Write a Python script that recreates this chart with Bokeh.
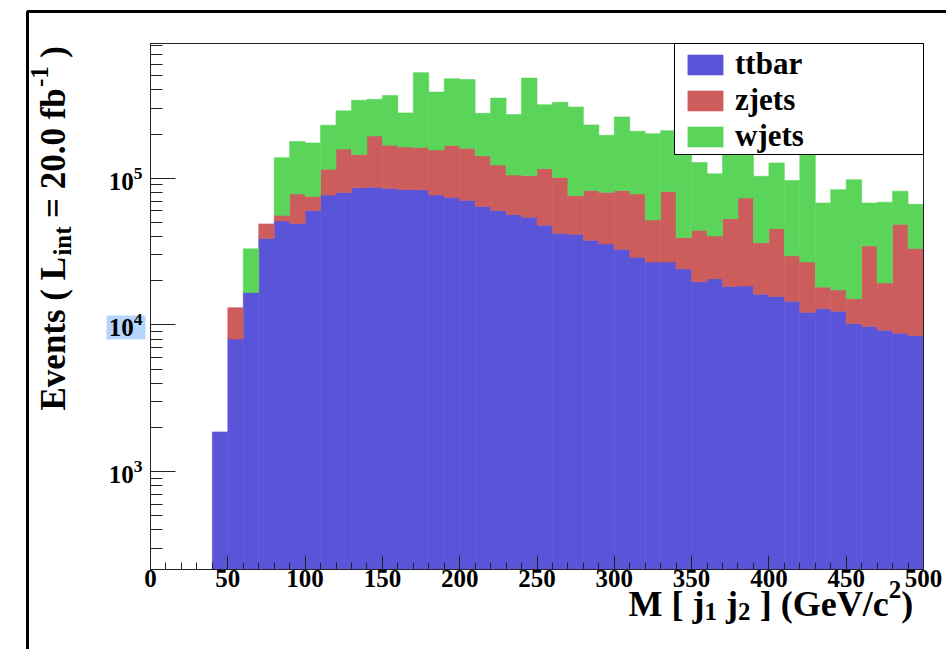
import math
from bokeh.plotting import figure
from bokeh.models import (Range1d, Label, BoxAnnotation, Legend, LegendItem,
                          SingleIntervalTicker, LogTicker, ColumnDataSource)
from bokeh.embed import file_html
from bokeh.resources import INLINE

# ---------------- data ----------------
bin_low = [40, 50, 60, 70, 80, 90, 100, 110, 120, 130, 140, 150, 160, 170, 180,
           190, 200, 210, 220, 230, 240, 250, 260, 270, 280, 290, 300, 310, 320,
           330, 340, 350, 360, 370, 380, 390, 400, 410, 420, 430, 440, 450, 460,
           470, 480, 490]
bin_width = 10

ttbar = [1650, 7800, 16400, 38600, 50900, 48900, 60200, 76600, 79700, 86000,
         86600, 85100, 83600, 83400, 76600, 73800, 70500, 64000, 60000, 56300,
         54000, 47700, 41900, 41300, 37600, 35400, 32600, 28700, 26600, 26600,
         23900, 19500, 20400, 18100, 18200, 16000, 15400, 14300, 12000, 12700,
         12200, 10000, 9550, 9000, 8550, 8230]

zjets = [0, 5100, 0, 10000, 4800, 29100, 14800, 38400, 78300, 59000,
         107400, 82900, 79400, 78600, 79400, 93200, 89500, 78000, 63000, 48700,
         50000, 68300, 59100, 34500, 44600, 44600, 49700, 49300, 25200, 54400,
         15300, 24500, 19800, 34700, 54900, 20200, 29800, 15100, 14700, 5200,
         4900, 4900, 24850, 10100, 39750, 24770]

wjets = [0, 0, 16400, 0, 82300, 100000, 99000, 115000, 130000, 195000,
         151000, 198000, 116000, 363000, 231000, 310000, 311000, 135000, 229000, 167000,
         378000, 201000, 229000, 230200, 148800, 116000, 179700, 131000, 149200, 130000,
         150800, 84000, 66800, 157200, 106900, 66800, 81800, 67000, 163300, 49700,
         66300, 82600, 33200, 49400, 33200, 33200]

series_names = ["ttbar", "zjets", "wjets"]
series_values = [ttbar, zjets, wjets]
series_colors = ["#5a54d8", "#cd5c5c", "#5ad55a"]

x_axis_bounds = (0, 500)
y_axis_bounds = (215.0, 8.3e5)
x_tick_interval = 50

# ---------------- layout (pixel geometry of the reference) ----------------
W, H = 946, 649
FL, FR, FT, FB = 150, 923, 43, 569       # plot frame edges in the picture
X0, X1 = x_axis_bounds
Y0, Y1 = y_axis_bounds
FONT = "Liberation Serif"

def xd(px):
    return X0 + (px - FL) / (FR - FL) * (X1 - X0)

def yd(py):
    l0, l1 = math.log10(Y0), math.log10(Y1)
    return 10 ** (l1 - (py - FT) / (FB - FT) * (l1 - l0))

# the drawing area is the whole canvas; the axes sit at fixed data locations
p = figure(width=W, height=H, x_range=Range1d(xd(0), xd(W)), y_range=Range1d(yd(H), yd(0)),
           y_axis_type="log", output_backend="svg", toolbar_location=None,
           min_border_left=0, min_border_right=0, min_border_top=0, min_border_bottom=0)
p.background_fill_color = "white"
p.border_fill_color = "white"
p.outline_line_color = None
p.grid.visible = False

# outer border of the canvas (as in the reference crop)
p.add_layout(BoxAnnotation(left=xd(27), right=xd(1000), top=yd(11), bottom=yd(720),
                           fill_color=None, fill_alpha=0, line_color="black",
                           line_alpha=1, line_width=3, level="underlay"))

# highlighted tick label (selection artefact in the reference)
p.add_layout(BoxAnnotation(left=xd(106), right=xd(145), top=yd(315), bottom=yd(339),
                           fill_color="#b4d5fd", fill_alpha=1, line_color=None,
                           level="underlay"))

# ---------------- stacked histogram ----------------
n = len(bin_low)
bottoms = [Y0] * n
renderers = []
for name, vals, color in zip(series_names, series_values, series_colors):
    tops = [b + v for b, v in zip(bottoms, vals)]
    keep = [i for i in range(n) if vals[i] > 0]
    src = ColumnDataSource(dict(
        x=[bin_low[i] + bin_width / 2 for i in keep],
        bottom=[bottoms[i] for i in keep],
        top=[tops[i] for i in keep]))
    r = p.vbar(x="x", width=bin_width, bottom="bottom", top="top", source=src,
               fill_color=color, line_color=color, line_width=0.6)
    renderers.append(r)
    bottoms = tops

# frame of the histogram
p.add_layout(BoxAnnotation(left=X0, right=X1, bottom=Y0, top=Y1, fill_color=None,
                           fill_alpha=0, line_color="#222222", line_alpha=1, line_width=1))

# ---------------- axes ----------------
xa = p.xaxis[0]
xa.fixed_location = Y0
xa.bounds = x_axis_bounds
xa.ticker = SingleIntervalTicker(interval=x_tick_interval, num_minor_ticks=5)
xa.major_tick_in = 14
xa.major_tick_out = 0
xa.minor_tick_in = 7
xa.minor_tick_out = 0
xa.axis_line_color = "#222222"
xa.major_tick_line_color = "#222222"
xa.minor_tick_line_color = "#222222"
xa.major_label_text_font = FONT
xa.major_label_text_font_style = "bold"
xa.major_label_text_font_size = "25px"
xa.major_label_text_color = "black"
xa.major_label_standoff = 0

ya = p.yaxis[0]
ya.fixed_location = X0
ya.bounds = y_axis_bounds
ya.ticker = LogTicker(num_minor_ticks=10)
ya.major_tick_in = 25
ya.major_tick_out = 0
ya.minor_tick_in = 12
ya.minor_tick_out = 0
ya.axis_line_color = "#222222"
ya.major_tick_line_color = "#222222"
ya.minor_tick_line_color = "#222222"
ya.major_label_text_font = FONT
ya.major_label_text_font_style = "bold"
ya.major_label_text_font_size = "25px"
ya.major_label_text_color = "black"
ya.major_label_standoff = 8

# y axis title (rotated), pieces with sub/superscripts
ytitle = [("Events ( L", 410, 53, "35px"),
          ("int", 255.1, 62, "25px"),
          ("= 20.0 fb", 217.5, 53, "35px"),
          ("-1", 86.6, 39, "25px"),
          (")", 57.2, 53, "35px")]
for txt, py, px, fs in ytitle:
    p.add_layout(Label(x=xd(px), y=yd(py), text=txt, angle=math.pi / 2,
                       text_align="left", text_baseline="alphabetic", text_font=FONT,
                       text_font_style="bold", text_font_size=fs, text_color="black"))

# x axis title
xtitle = [("M [ j", 628, 603, "36px"),
          ("1", 704, 611, "25px"),
          ("j", 725.6, 603, "36px"),
          ("2", 737.6, 611, "25px"),
          ("] (GeV/c", 759.2, 603, "36px"),
          ("2", 888.2, 589, "25px"),
          (")", 900.8, 603, "36px")]
for txt, px, py, fs in xtitle:
    p.add_layout(Label(x=xd(px), y=yd(py), text=txt, text_align="left",
                       text_baseline="alphabetic", text_font=FONT, text_font_style="bold",
                       text_font_size=fs, text_color="black"))

# ---------------- legend ----------------
p.add_layout(BoxAnnotation(left=xd(674), right=xd(923), top=yd(43), bottom=yd(154),
                           fill_color="white", fill_alpha=1, line_color="black",
                           line_alpha=1, line_width=1))
legend = Legend(items=[LegendItem(label=nm, renderers=[r]) for nm, r in zip(series_names, renderers)],
                location=(683, H - 154), margin=0, padding=0, spacing=0,
                glyph_width=44, glyph_height=25, label_height=25,
                label_standoff=8, label_text_font=FONT, label_text_font_style="bold",
                label_text_font_size="31px", label_text_color="black",
                border_line_color=None, background_fill_alpha=0.0)
p.add_layout(legend)

open("out.html", "w").write(file_html(p, INLINE))
